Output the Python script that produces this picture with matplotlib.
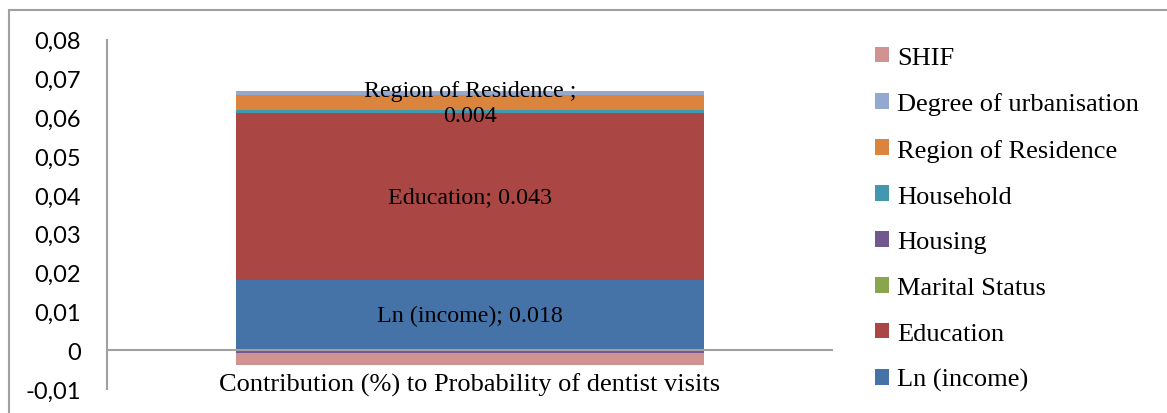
import matplotlib.pyplot as plt
from matplotlib.patches import Patch, Rectangle

# contributions, in stacking order (bottom to top)
factors = ["Ln (income)", "Education", "Marital Status", "Housing",
           "Household", "Region of Residence", "Degree of urbanisation", "SHIF"]
values = [0.018, 0.043, 0.0, -0.0008, 0.0008, 0.004, 0.0011, -0.0031]
colors = ["#4572A7", "#AA4643", "#89A54E", "#71588F",
          "#4198AF", "#DB843D", "#93A9CF", "#D19392"]
category = "Contribution (%) to Probability of dentist visits"
# data labels shown on the bar
labels = {"Ln (income)": "Ln (income); 0.018",
          "Education": "Education; 0.043",
          "Region of Residence": "Region of Residence ;\n0.004"}
yticks = [-0.01, 0, 0.01, 0.02, 0.03, 0.04, 0.05, 0.06, 0.07, 0.08]

serif = "Liberation Serif"
sans = "Lato"

fig = plt.figure(figsize=(11.67, 4.14), dpi=100)
ax = fig.add_axes([107/1167, 1 - 390/414, (833-107)/1167, (390-40.7)/414])

pos, neg = 0.0, 0.0
for name, v, c in zip(factors, values, colors):
    if v >= 0:
        bottom = pos
        pos += v
    else:
        bottom = neg
        neg += v
    ax.bar(0, v, bottom=bottom, width=0.645, color=c, zorder=2)
    if name in labels:
        ax.text(0, bottom + v/2, labels[name], ha="center", va="center",
                fontsize=17.3, family=serif, linespacing=1.25, zorder=4)

ax.axhline(0, color="#a0a0a0", lw=1.5, zorder=3)
ax.set_xlim(-0.5, 0.5)
ax.set_ylim(-0.01, 0.08)
ax.set_yticks(yticks)
ax.set_yticklabels([("%.2f" % t).replace(".", ",") if t != 0 else "0" for t in yticks],
                   family=sans, fontsize=17)
ax.tick_params(axis="y", length=0, pad=18.7)
ax.set_xticks([])
for s in ["top", "right", "bottom"]:
    ax.spines[s].set_visible(False)
ax.spines["left"].set_color("#a0a0a0")
ax.spines["left"].set_linewidth(1.5)

ax.text(0, -0.0088, category, ha="center", va="center", fontsize=19, family=serif)

# outer chart frame
fig.patches.append(Rectangle((9/1167, -0.1), 1.2, 1 - 11/414 + 0.1,
                             transform=fig.transFigure, fill=False,
                             edgecolor="#a0a0a0", lw=1.5))

handles = [Patch(facecolor=c, label=n) for n, c in zip(factors, colors)][::-1]
fig.legend(handles=handles, loc="upper left", bbox_to_anchor=(864/1167, 1 - 37/414),
           frameon=False, prop={"family": serif, "size": 19},
           handlelength=0.55, handleheight=0.55, handletextpad=0.3,
           labelspacing=0.89, borderaxespad=0)

fig.savefig("out.png", dpi=100)
